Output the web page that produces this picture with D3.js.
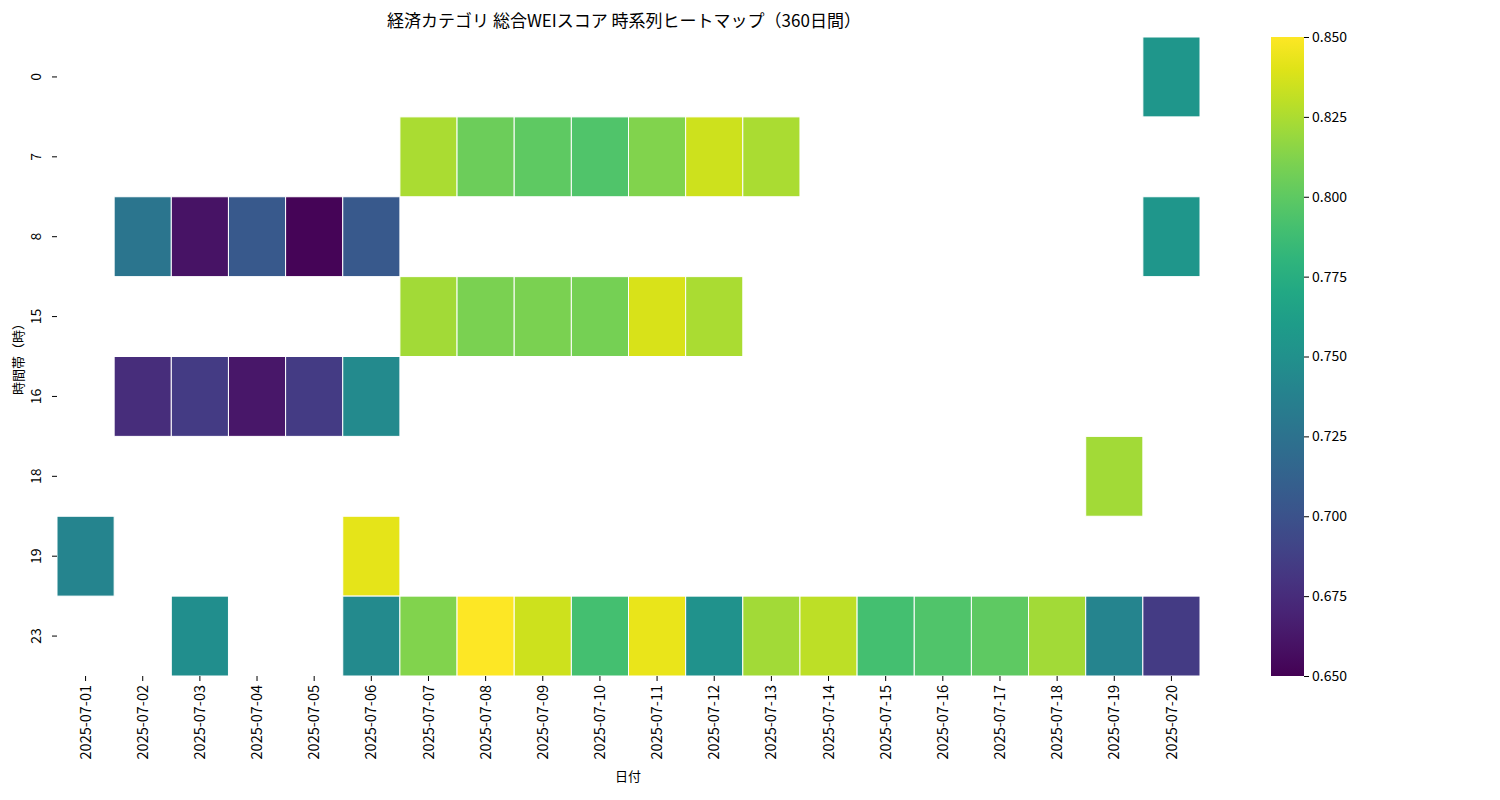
<!DOCTYPE html>
<html><head><meta charset="utf-8">
<script src="https://cdn.jsdelivr.net/npm/d3@7"></script>
<style>body{margin:0;background:#fff;font-family:"Noto Sans CJK JP","DejaVu Sans",sans-serif;}</style>
</head><body><svg id="c" width="1500" height="800"></svg>
<script>
const dates = ["2025-07-01","2025-07-02","2025-07-03","2025-07-04","2025-07-05","2025-07-06","2025-07-07","2025-07-08","2025-07-09","2025-07-10","2025-07-11","2025-07-12","2025-07-13","2025-07-14","2025-07-15","2025-07-16","2025-07-17","2025-07-18","2025-07-19","2025-07-20"];
const hours = ["0","7","8","15","16","18","19","23"];
const row0  = [null,null,null,null,null,null,null,null,null,null,null,null,null,null,null,null,null,null,null,0.755];
const row7  = [null,null,null,null,null,null,0.825,0.805,0.800,0.795,0.812,0.835,0.825,null,null,null,null,null,null,null];
const row8  = [null,0.728,0.660,0.705,0.652,0.705,null,null,null,null,null,null,null,null,null,null,null,null,null,0.755];
const row15 = [null,null,null,null,null,null,0.822,0.810,0.810,0.808,0.838,0.825,null,null,null,null,null,null,null,null];
const row16 = [null,0.675,0.685,0.662,0.685,0.745,null,null,null,null,null,null,null,null,null,null,null,null,null,null];
const row18 = [null,null,null,null,null,null,null,null,null,null,null,null,null,null,null,null,null,null,0.822,null];
const row19 = [0.740,null,null,null,null,0.842,null,null,null,null,null,null,null,null,null,null,null,null,null,null];
const row23 = [null,null,0.748,null,null,0.745,0.812,0.850,0.835,0.790,0.843,0.752,0.822,0.830,0.790,0.795,0.800,0.822,0.740,0.685];
const rows = [row0,row7,row8,row15,row16,row18,row19,row23];
const cbTicks = [0.650,0.675,0.700,0.725,0.750,0.775,0.800,0.825,0.850];

const F = "'Noto Sans CJK JP',sans-serif";
const svg = d3.select("#c");
const x = d3.scaleBand().domain(dates).range([57,1200]);
const y = d3.scaleBand().domain(hours).range([37,676]);
const color = d3.scaleSequential(d3.interpolateViridis).domain([0.65,0.85]);
const cells = [];
rows.forEach((r,i)=>r.forEach((v,j)=>{ if(v!=null) cells.push({h:hours[i],d:dates[j],v}); }));
svg.append("g").selectAll("rect").data(cells).join("rect")
  .attr("x",d=>x(d.d)).attr("y",d=>y(d.h)).attr("width",x.bandwidth()).attr("height",y.bandwidth())
  .attr("fill",d=>color(d.v)).attr("stroke","#fff").attr("stroke-width",1);

const xa = svg.append("g").attr("transform","translate(0,676)").call(d3.axisBottom(x).tickSizeOuter(0).tickSize(5));
xa.select(".domain").remove();
xa.selectAll("text").attr("x",0).attr("y",0).attr("dy","0.35em").attr("transform","translate(0,9) rotate(-90)").attr("text-anchor","end")
  .style("font-size","14.5px").style("font-family",F).attr("fill","#000");
const ya = svg.append("g").attr("transform","translate(57,0)").call(d3.axisLeft(y).tickSizeOuter(0).tickSize(5));
ya.select(".domain").remove();
ya.selectAll("text").attr("x",0).attr("y",0).attr("dy","0").attr("text-anchor","middle").attr("transform","translate(-16,0) rotate(-90)")
  .style("font-size","14px").style("font-family",F).attr("fill","#000");

svg.append("text").attr("x",628).attr("y",781).attr("text-anchor","middle").style("font-size","13px").text("日付");
svg.append("text").attr("transform","translate(23,356) rotate(-90)").attr("text-anchor","middle").style("font-size","13px").text("時間帯（時）");
svg.append("text").attr("x",624).attr("y",27).attr("text-anchor","middle").style("font-size","17px").text("経済カテゴリ 総合WEIスコア 時系列ヒートマップ（360日間）");

const defs = svg.append("defs");
const lg = defs.append("linearGradient").attr("id","g").attr("x1",0).attr("y1",1).attr("x2",0).attr("y2",0);
d3.range(0,1.0001,0.05).forEach(t=>lg.append("stop").attr("offset",t).attr("stop-color",d3.interpolateViridis(t)));
svg.append("rect").attr("x",1271).attr("y",37).attr("width",33).attr("height",639).attr("fill","url(#g)");
const cy = d3.scaleLinear().domain([0.65,0.85]).range([676,37]);
const ca = svg.append("g").attr("transform","translate(1304,0)").call(d3.axisRight(cy).tickValues(cbTicks).tickFormat(d3.format(".3f")).tickSize(5).tickSizeOuter(0));
ca.select(".domain").remove();
ca.selectAll("text").style("font-size","14px").style("font-family",F).attr("fill","#000");
</script></body></html>
